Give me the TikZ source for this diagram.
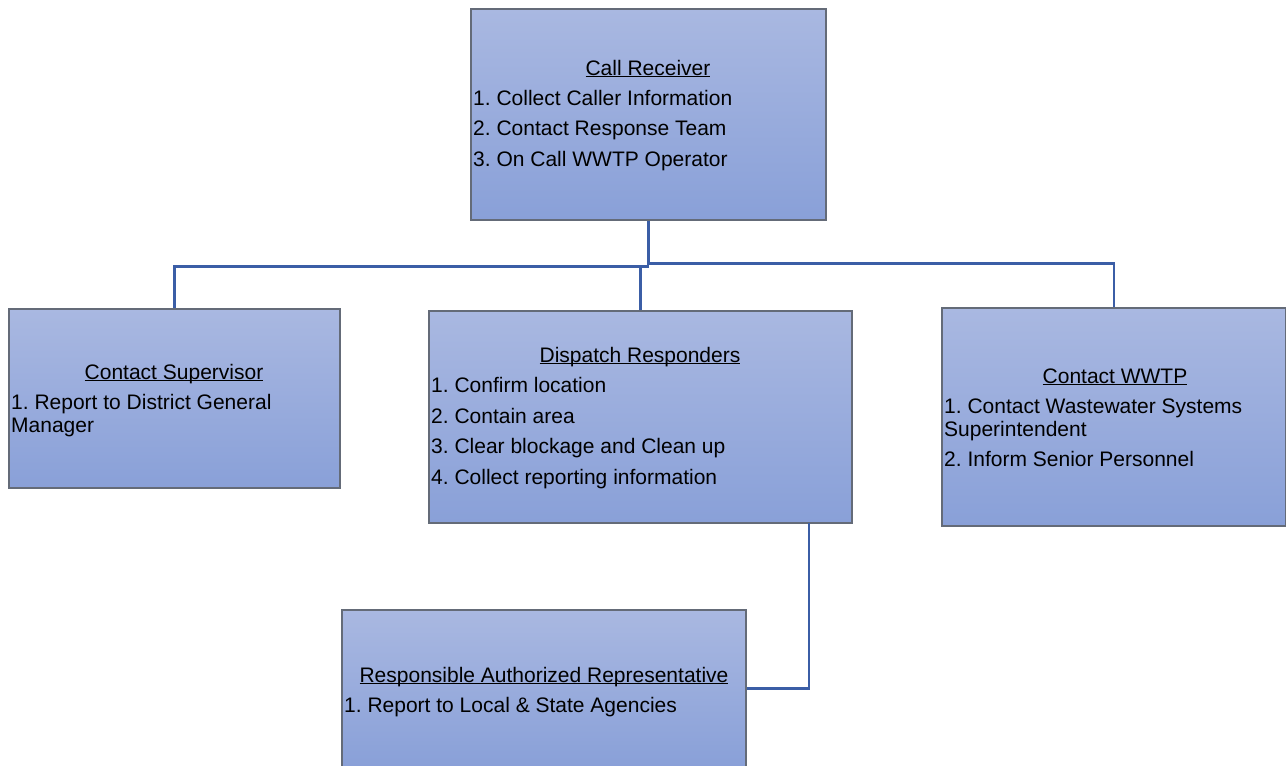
\documentclass[tikz,border=0pt]{standalone}
\usepackage{fontspec}
\setmainfont{Liberation Sans}
\frenchspacing
\definecolor{boxtop}{HTML}{A9B8E1}
\definecolor{boxbot}{HTML}{89A0D8}
\definecolor{boxline}{HTML}{646B78}
\definecolor{linkblue}{HTML}{3B5EA6}
\newcommand{\boxhead}[1]{\underline{\smash{#1}}}

\begin{document}
\begin{tikzpicture}[x=1pt, y=-1pt,
	every node/.style={font=\fontsize{21}{23}\selectfont, inner sep=0pt},
	box/.style={draw=boxline, line width=1.2pt, top color=boxtop, bottom color=boxbot},
	head/.style={anchor=base},
	items/.style={anchor=base west, align=left},
	link/.style={draw=linkblue, line width=2.5pt}]
	\useasboundingbox (0,0) rectangle (1286,766);
	% boxes
	\node[box, minimum width=355, minimum height=211] (recv) at (648.5,114.5) {};
	\node[box, minimum width=331, minimum height=179] (sup) at (174.5,398.5) {};
	\node[box, minimum width=423, minimum height=212] (disp) at (640.5,417) {};
	\node[box, minimum width=344, minimum height=218] (wwtp) at (1114,417) {};
	\node[box, minimum width=404, minimum height=157] (rep) at (544,688.5) {};
	% texts (list nodes sit on their last baseline)
	\node[head] (recvhead) at (648,75) {\boxhead{Call Receiver}};
	\node[items] (recvlist) at (473,166) {1. Collect Caller Information\\[7.5pt]2. Contact Response Team\\[7.5pt]3. On Call WWTP Operator};
	\node[head] (suphead) at (174,379) {\boxhead{Contact Supervisor}};
	\node[items] (suplist) at (11,432) {1. Report to District General\\Manager};
	\node[head] (disphead) at (640,362) {\boxhead{Dispatch Responders}};
	\node[items] (displist) at (431,484) {1. Confirm location\\[7.5pt]2. Contain area\\[7.5pt]3. Clear blockage and Clean up\\[7.5pt]4. Collect reporting information};
	\node[head] (wwtphead) at (1115,383) {\boxhead{Contact WWTP}};
	\node[items] (wwtplist) at (944,466) {1. Contact Wastewater Systems\\Superintendent\\[7pt]2. Inform Senior Personnel};
	\node[head] (rephead) at (544,682) {\boxhead{Responsible Authorized Representative}};
	\node[items] (replist) at (344,712) {1. Report to Local \& State Agencies};
	% connectors
	\draw[link] (recv.south) -- ++(0,43) -| (wwtp.north);
	\draw[link] (recv.south) ++(0,46) -| (sup.north);
	\draw[link] (disp.north) -- ++(0,-45);
	\coordinate (dispout) at (809,523);
	\draw[link] (dispout) |- (rep.east);
\end{tikzpicture}
\end{document}
